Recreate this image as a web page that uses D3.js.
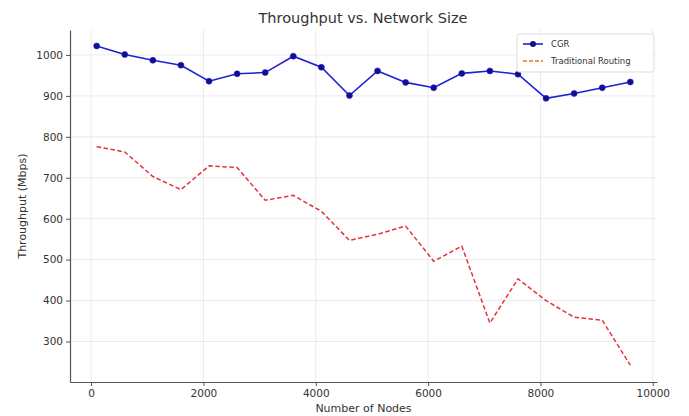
<!DOCTYPE html>
<html><head><meta charset="utf-8">
<script src="https://cdn.jsdelivr.net/npm/d3@7"></script>
<style>body{margin:0;background:#fff;} svg{display:block;font-family:"DejaVu Sans",sans-serif;}</style>
</head><body>
<script>
const nodes = [100,600,1100,1600,2100,2600,3100,3600,4100,4600,5100,5600,6100,6600,7100,7600,8100,8600,9100,9600];
const cgr = [1022,1001,987,975,936,954,957,997,970,901,961,933,920,955,961,953,894,906,920,934];
const traditional = [776,763,703,671,729,725,645,657,618,547,562,582,496,533,345,453,400,359,352,242];
const xTicks = [0,2000,4000,6000,8000,10000];
const yTicks = [300,400,500,600,700,800,900,1000];
const seriesNames = ["CGR","Traditional Routing"];

const W=689,H=416, L=70, R=657, T=30, B=382;
const svg=d3.select("body").append("svg").attr("width",W).attr("height",H);
const x=d3.scaleLinear().domain([-375,10075]).range([L,R]);
const y=d3.scaleLinear().domain([201,1061]).range([B,T]);

// grid
svg.append("g").selectAll("line").data(xTicks).join("line")
  .attr("x1",d=>x(d)).attr("x2",d=>x(d)).attr("y1",T).attr("y2",B)
  .attr("stroke","#e6e6e6").attr("stroke-width",0.8);
svg.append("g").selectAll("line").data(yTicks).join("line")
  .attr("x1",L).attr("x2",R).attr("y1",d=>y(d)).attr("y2",d=>y(d))
  .attr("stroke","#e6e6e6").attr("stroke-width",0.8);

// axes
const xa=svg.append("g").attr("transform",`translate(0,${B})`)
  .call(d3.axisBottom(x).tickValues(xTicks).tickFormat(d3.format("d")).tickSize(4).tickSizeOuter(0));
const ya=svg.append("g").attr("transform",`translate(${L},0)`)
  .call(d3.axisLeft(y).tickValues(yTicks).tickFormat(d3.format("d")).tickSize(4).tickSizeOuter(0));
[xa,ya].forEach(a=>{
  a.select(".domain").attr("stroke","#555").attr("stroke-width",1.2);
  a.selectAll(".tick line").attr("stroke","#555");
  a.selectAll(".tick text").attr("fill","#333").attr("font-size",10.5).attr("font-family","DejaVu Sans");
});
xa.selectAll(".tick text").attr("dy","0.75em");

// lines
const line=d3.line().x((d,i)=>x(nodes[i])).y(d=>y(d));
svg.append("path").datum(traditional).attr("d",line).attr("fill","none")
  .attr("stroke","#e8313a").attr("stroke-width",1.5).attr("stroke-dasharray","4.5,2.5");
svg.append("path").datum(cgr).attr("d",line).attr("fill","none")
  .attr("stroke","#1f1fd6").attr("stroke-width",1.6);
svg.append("g").selectAll("circle").data(cgr).join("circle")
  .attr("cx",(d,i)=>x(nodes[i])).attr("cy",d=>y(d)).attr("r",3)
  .attr("fill","#10108a").attr("stroke","#1f1fd6").attr("stroke-width",0.6);

// title & labels
svg.append("text").attr("x",363).attr("y",23).attr("text-anchor","middle")
  .attr("font-size",14.5).attr("fill","#333").text("Throughput vs. Network Size");
svg.append("text").attr("x",(L+R)/2).attr("y",412).attr("text-anchor","middle")
  .attr("font-size",11).attr("fill","#333").text("Number of Nodes");
svg.append("text").attr("transform",`translate(26,${(T+B)/2}) rotate(-90)`).attr("text-anchor","middle")
  .attr("font-size",11).attr("fill","#333").text("Throughput (Mbps)");

// legend
const lg=svg.append("g").attr("transform","translate(517,34)");
lg.append("rect").attr("width",137).attr("height",38).attr("fill","#fff").attr("fill-opacity",0.85)
  .attr("stroke","#ddd").attr("rx",2);
lg.append("line").attr("x1",6).attr("x2",26).attr("y1",10).attr("y2",10).attr("stroke","#1f1fd6").attr("stroke-width",1.6);
lg.append("circle").attr("cx",16).attr("cy",10).attr("r",3).attr("fill","#10108a");
lg.append("line").attr("x1",6).attr("x2",26).attr("y1",27).attr("y2",27).attr("stroke","#e8702a").attr("stroke-width",1.5).attr("stroke-dasharray","4,2");
lg.selectAll("text.lt").data(seriesNames).join("text").attr("class","lt")
  .attr("x",34).attr("y",(d,i)=>13+i*17).attr("font-size",8.5).attr("fill","#333").text(d=>d);
</script>
</body></html>
